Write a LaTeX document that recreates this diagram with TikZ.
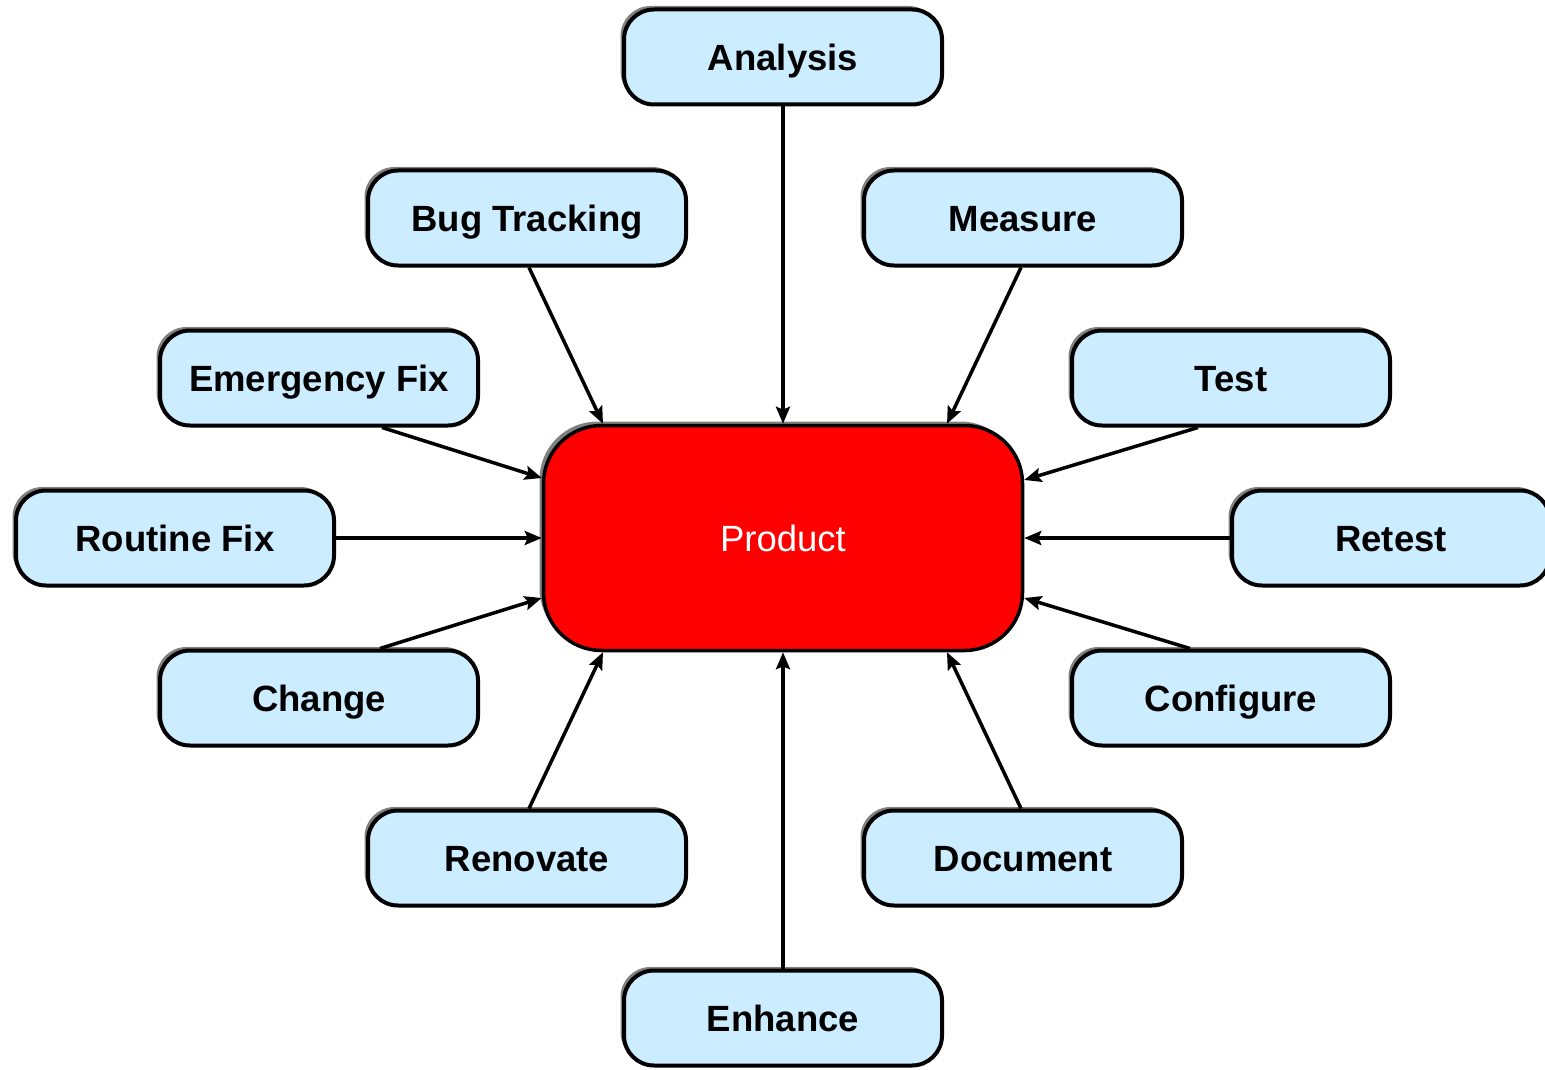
\documentclass[tikz,border=0pt]{standalone}
\usepackage{fontspec}
\setmainfont{Liberation Sans}
\usetikzlibrary{arrows.meta,shadows,calc}
\definecolor{boxblue}{RGB}{204,236,255}
\definecolor{prodred}{RGB}{255,0,0}
\tikzset{
  box/.style={draw=black, line width=4pt, fill=boxblue, rounded corners=30pt,
    minimum width=318pt, minimum height=95pt, inner sep=0pt,
    text height=26.5pt, text depth=0pt,
    font=\fontsize{36.5}{40}\selectfont\bfseries,
    general shadow={fill=gray, shadow xshift=-3.5pt, shadow yshift=3.5pt}},
  prodbox/.style={draw=black, line width=3.5pt, fill=prodred, rounded corners=58pt,
    minimum width=479pt, minimum height=225pt, inner sep=0pt, text=white,
    text height=26.5pt, text depth=0pt,
    font=\fontsize{36.5}{40}\selectfont,
    general shadow={fill=gray, shadow xshift=-4pt, shadow yshift=4pt}},
  conn/.style={line width=3.5pt, -{Stealth[length=17pt,width=14pt,inset=3pt]}}
}
\begin{document}
\begin{tikzpicture}[x=1pt,y=1pt]
\clip (0,0) rectangle (1545,-1070);
\node[prodbox] (prod) at (783,-538) {Product};
\node[box] (ana) at (783,-57) {Analysis};
\node[box] (bug) at (527,-218) {Bug Tracking};
\node[box] (mea) at (1023,-218) {Measure};
\node[box] (emg) at (319,-378) {Emergency Fix};
\node[box] (tst) at (1231,-378) {Test};
\node[box] (rfx) at (175,-538) {Routine Fix};
\node[box] (ret) at (1391,-538) {Retest};
\node[box] (chg) at (319,-698) {Change};
\node[box] (cfg) at (1231,-698) {Configure};
\node[box] (ren) at (527,-858) {Renovate};
\node[box] (doc) at (1023,-858) {Document};
\node[box] (enh) at (783,-1018) {Enhance};

\draw[conn] (ana.south) -- (prod.north);
\draw[conn] ([xshift=2pt]bug.south) -- ([xshift=-180pt]prod.north);
\draw[conn] ([xshift=-2pt]mea.south) -- ([xshift=164pt]prod.north);
\draw[conn] ([xshift=63pt]emg.south) -- ([yshift=60pt]prod.west);
\draw[conn] ([xshift=-33pt]tst.south) -- ([yshift=58pt]prod.east);
\draw[conn] (rfx.east) -- (prod.west);
\draw[conn] (ret.west) -- (prod.east);
\draw[conn] ([xshift=61pt]chg.north) -- ([yshift=-60pt]prod.west);
\draw[conn] ([xshift=-41pt]cfg.north) -- ([yshift=-60pt]prod.east);
\draw[conn] ([xshift=2pt]ren.north) -- ([xshift=-180pt]prod.south);
\draw[conn] ([xshift=-2pt]doc.north) -- ([xshift=164pt]prod.south);
\draw[conn] (enh.north) -- (prod.south);
\end{tikzpicture}
\end{document}
